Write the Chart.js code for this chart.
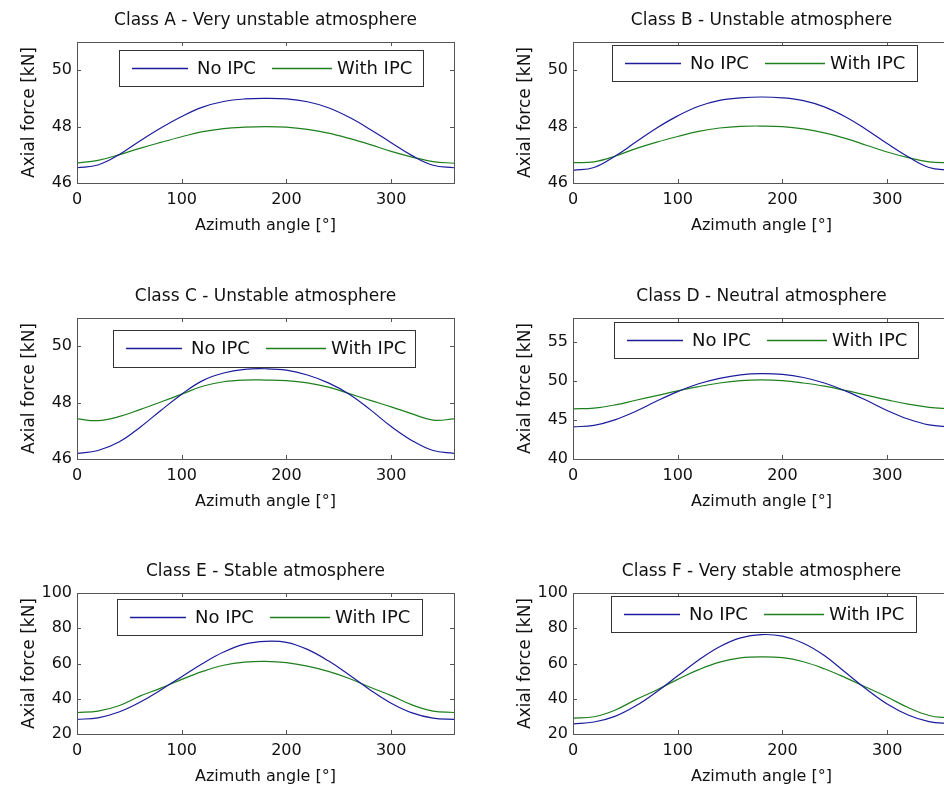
<!DOCTYPE html>
<html>
<head>
<meta charset="utf-8">
<title>Axial force vs azimuth angle</title>
<script src="https://cdn.jsdelivr.net/npm/chart.js@4.4.1/dist/chart.umd.min.js"></script>
<style>
  html, body { margin: 0; padding: 0; background: #fff; }
  #page { position: relative; width: 944px; height: 793px; overflow: hidden; }
  #page canvas { position: absolute; }
</style>
</head>
<body>
<div id="page">
  <canvas id="cA" width="531" height="243" style="left:0;top:0"></canvas>
  <canvas id="cB" width="531" height="243" style="left:496px;top:0"></canvas>
  <canvas id="cC" width="531" height="243" style="left:0;top:276px"></canvas>
  <canvas id="cD" width="531" height="243" style="left:496px;top:276px"></canvas>
  <canvas id="cE" width="531" height="243" style="left:0;top:551px"></canvas>
  <canvas id="cF" width="531" height="243" style="left:496px;top:551px"></canvas>
</div>
<script>
// azimuth samples, every 20 degrees
const angles = [0, 20, 40, 60, 80, 100, 120, 140, 160, 180, 200, 220, 240, 260, 280, 300, 320, 340, 360];
const xTicks = [0, 100, 200, 300];
const seriesNames = ['No IPC', 'With IPC'];

const titles = [
  'Class A - Very unstable atmosphere',
  'Class B - Unstable atmosphere',
  'Class C - Unstable atmosphere',
  'Class D - Neutral atmosphere',
  'Class E - Stable atmosphere',
  'Class F - Very stable atmosphere'
];

const ticksABC = [46, 48, 50];
const ticksD = [40, 45, 50, 55];
const ticksEF = [20, 40, 60, 80, 100];

const classA_no   = [46.54, 46.64, 47.0, 47.49, 47.95, 48.36, 48.69, 48.89, 48.98, 49.0, 48.98, 48.88, 48.67, 48.33, 47.9, 47.43, 46.97, 46.63, 46.54];
const classA_with = [46.71, 46.8, 47.0, 47.23, 47.44, 47.64, 47.82, 47.93, 47.98, 48.0, 47.98, 47.9, 47.77, 47.58, 47.36, 47.12, 46.92, 46.76, 46.7];

const classB_no   = [46.45, 46.55, 46.95, 47.45, 47.95, 48.38, 48.72, 48.93, 49.02, 49.05, 49.02, 48.92, 48.7, 48.35, 47.9, 47.4, 46.93, 46.55, 46.45];
const classB_with = [46.72, 46.75, 46.95, 47.22, 47.45, 47.65, 47.83, 47.95, 48.01, 48.02, 48.0, 47.92, 47.78, 47.58, 47.34, 47.1, 46.9, 46.75, 46.72];

const classC_no   = [46.2, 46.3, 46.6, 47.12, 47.72, 48.3, 48.78, 49.05, 49.18, 49.2, 49.15, 48.98, 48.7, 48.3, 47.75, 47.15, 46.65, 46.3, 46.2];
const classC_with = [47.42, 47.36, 47.5, 47.75, 48.02, 48.3, 48.58, 48.74, 48.8, 48.8, 48.78, 48.7, 48.55, 48.32, 48.08, 47.85, 47.6, 47.38, 47.42];

const classD_no   = [44.1, 44.3, 45.0, 46.1, 47.4, 48.6, 49.6, 50.3, 50.75, 50.9, 50.8, 50.4, 49.7, 48.7, 47.5, 46.2, 45.1, 44.35, 44.1];
const classD_with = [46.4, 46.5, 46.9, 47.5, 48.1, 48.7, 49.25, 49.7, 50.0, 50.1, 50.0, 49.7, 49.3, 48.75, 48.15, 47.55, 47.0, 46.6, 46.4];

const classE_no   = [28.3, 29.2, 32.5, 38.0, 45.0, 52.5, 60.0, 66.5, 71.0, 72.6, 72.0, 68.0, 61.5, 53.5, 45.0, 37.5, 32.0, 29.0, 28.3];
const classE_with = [32.2, 33.0, 36.0, 41.5, 46.0, 51.0, 55.5, 59.0, 60.8, 61.2, 60.5, 58.5, 55.5, 51.5, 46.5, 41.8, 36.5, 33.0, 32.2];

const classF_no   = [25.8, 26.8, 30.0, 36.0, 44.0, 53.0, 62.0, 69.5, 74.5, 76.4, 75.5, 71.5, 64.5, 55.0, 45.5, 37.0, 30.8, 27.0, 25.8];
const classF_with = [29.0, 29.8, 33.5, 39.5, 45.0, 51.0, 56.5, 60.8, 63.2, 63.8, 63.3, 61.0, 57.0, 52.0, 46.5, 41.0, 35.0, 30.5, 29.0];

const BLUE = '#1c1c9c';
const GREEN = '#1e801e';

Chart.defaults.font.family = '"DejaVu Sans", sans-serif';
Chart.defaults.color = '#111';

// MATLAB-like box, inward ticks and framed legend
const boxPlugin = {
  id: 'matlabBox',
  afterDatasetsDraw(chart, args, opts) {
    const { ctx, chartArea: a, scales: { x, y } } = chart;
    ctx.save();
    ctx.strokeStyle = '#555';
    ctx.lineWidth = 1;
    ctx.beginPath();
    x.ticks.forEach(t => {
      const px = Math.round(x.getPixelForValue(t.value)) + 0.5;
      ctx.moveTo(px, a.bottom); ctx.lineTo(px, a.bottom - 4);
      ctx.moveTo(px, a.top); ctx.lineTo(px, a.top + 4);
    });
    y.ticks.forEach(t => {
      const py = Math.round(y.getPixelForValue(t.value)) + 0.5;
      ctx.moveTo(a.left, py); ctx.lineTo(a.left + 4, py);
      ctx.moveTo(a.right, py); ctx.lineTo(a.right - 4, py);
    });
    ctx.stroke();
    ctx.strokeRect(Math.round(a.left) + 0.5, Math.round(a.top) + 0.5, Math.round(a.right - a.left), Math.round(a.bottom - a.top));

    // legend
    const lx = Math.round(a.left + opts.x), ly = Math.round(a.top + opts.y);
    ctx.fillStyle = '#fff';
    ctx.fillRect(lx, ly, opts.w, opts.h);
    ctx.strokeStyle = '#333';
    ctx.strokeRect(lx + 0.5, ly + 0.5, opts.w, opts.h);
    const cy = Math.floor(ly + opts.h / 2) + 0.5;
    const slots = [[13, 69, 78], [153, 213, 218]];
    ctx.font = '18px "DejaVu Sans", sans-serif';
    ctx.textBaseline = 'middle';
    ctx.textAlign = 'left';
    ctx.lineWidth = 1.3;
    chart.data.datasets.forEach((ds, i) => {
      const s = slots[i];
      ctx.strokeStyle = ds.borderColor;
      ctx.beginPath();
      ctx.moveTo(lx + s[0], cy); ctx.lineTo(lx + s[1], cy);
      ctx.stroke();
      ctx.fillStyle = '#111';
      ctx.fillText(ds.label, lx + s[2], cy + 1);
    });
    ctx.restore();
  }
};

function points(vals) {
  return angles.map((a, i) => ({ x: a, y: vals[i] }));
}

function makeChart(id, title, yMin, yMax, yTicks, noIpc, withIpc, legend) {
  return new Chart(document.getElementById(id), {
    type: 'line',
    data: {
      datasets: [
        { label: seriesNames[0], data: points(noIpc), borderColor: BLUE, borderWidth: 1.2 },
        { label: seriesNames[1], data: points(withIpc), borderColor: GREEN, borderWidth: 1.2 }
      ]
    },
    options: {
      responsive: false,
      animation: false,
      layout: { padding: { left: 0, right: 77, top: 0, bottom: 0 } },
      elements: {
        point: { radius: 0 },
        line: { tension: 0.4 }
      },
      plugins: {
        legend: { display: false },
        tooltip: { enabled: false },
        title: {
          display: true,
          fullSize: false,
          text: title,
          font: { size: 17, weight: 'normal' },
          color: '#111',
          padding: { top: 10.3, bottom: 11.3 }
        },
        matlabBox: legend
      },
      scales: {
        x: {
          type: 'linear',
          min: 0,
          max: 360,
          afterBuildTicks: s => { s.ticks = xTicks.map(v => ({ value: v })); },
          afterFit: s => { s.height = 60; },
          grid: { display: false, drawTicks: false },
          border: { display: false },
          ticks: { autoSkip: false, maxRotation: 0, padding: 7, font: { size: 16 }, color: '#111' },
          title: { display: true, text: 'Azimuth angle [°]', font: { size: 16 }, color: '#111', padding: { top: 0, bottom: 7.5 } }
        },
        y: {
          min: yMin,
          max: yMax,
          afterBuildTicks: s => { s.ticks = yTicks.map(v => ({ value: v })); },
          afterFit: s => { s.width = 77; },
          grid: { display: false, drawTicks: false },
          border: { display: false },
          ticks: { autoSkip: false, padding: 5, font: { size: 16 }, color: '#111' },
          title: { display: true, text: 'Axial force [kN]', font: { size: 17 }, color: '#111', padding: { top: 19.3, bottom: 0 } }
        }
      }
    },
    plugins: [boxPlugin]
  });
}

makeChart('cA', titles[0], 46, 51, ticksABC, classA_no, classA_with, { x: 42, y: 8, w: 304, h: 36 });
makeChart('cB', titles[1], 46, 51, ticksABC, classB_no, classB_with, { x: 39, y: 3, w: 305, h: 36 });
makeChart('cC', titles[2], 46, 51, ticksABC, classC_no, classC_with, { x: 36, y: 12, w: 302, h: 37 });
makeChart('cD', titles[3], 40, 58, ticksD, classD_no, classD_with, { x: 41, y: 4, w: 304, h: 36 });
makeChart('cE', titles[4], 20, 100, ticksEF, classE_no, classE_with, { x: 40, y: 6, w: 305, h: 36 });
makeChart('cF', titles[5], 20, 100, ticksEF, classF_no, classF_with, { x: 38, y: 3, w: 305, h: 36 });
</script>
</body>
</html>
